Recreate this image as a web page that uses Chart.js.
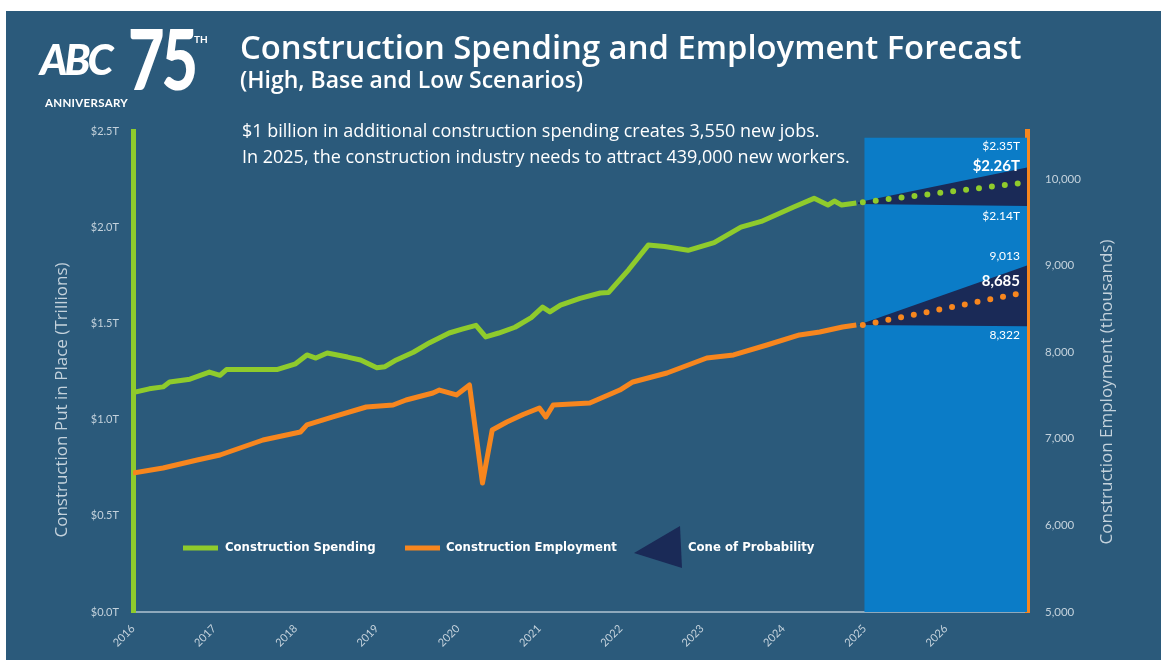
<!DOCTYPE html>
<html>
<head>
<meta charset="utf-8">
<script src="https://cdn.jsdelivr.net/npm/chart.js@4.4.0/dist/chart.umd.min.js"></script>
<style>
  body { margin: 0; background: #fff; }
  #wrap { position: relative; width: 1161px; height: 660px; overflow: hidden; }
  #bg { position: absolute; left: 6px; top: 11px; right: 0; bottom: 0; background: #2b5a7b; }
  canvas { position: absolute; left: 0; top: 0; }
  .t { position: absolute; color: #fff; white-space: nowrap; font-family: "Open Sans", sans-serif;
       line-height: 1; font-variant-ligatures: none; }
</style>
</head>
<body>
<div id="wrap">
  <div id="bg"></div>
  <canvas id="chart" width="1161" height="660"></canvas>
  <!-- logo -->
  <div class="t" style="left:40px;top:38px;font-family:Lato;font-size:42px;font-weight:900;font-style:italic;letter-spacing:-3px;">ABC</div>
  <div class="t" style="left:128px;top:16px;font-family:Lato;font-size:84px;font-weight:900;letter-spacing:-4px;transform:scaleX(0.75);transform-origin:left top;">75</div>
  <div class="t" style="left:194px;top:34px;font-family:Lato;font-size:10px;font-weight:700;">TH</div>
  <div class="t" style="left:45px;top:97px;font-family:Lato;font-size:11.5px;font-weight:700;letter-spacing:0.3px;">ANNIVERSARY</div>
  <!-- titles -->
  <div class="t" style="left:240px;top:31px;font-size:32.8px;font-weight:600;">Construction Spending and Employment Forecast</div>
  <div class="t" style="left:240px;top:68px;font-size:23px;font-weight:600;">(High, Base and Low Scenarios)</div>
  <div class="t" style="left:242px;top:121px;font-size:18px;">$1 billion in additional construction spending creates 3,550 new jobs.</div>
  <div class="t" style="left:242px;top:147px;font-size:18px;">In 2025, the construction industry needs to attract 439,000 new workers.</div>
</div>
<script>
// Construction spending, trillions (actual)
const spendX = [2016.0, 2016.2, 2016.37, 2016.45, 2016.7, 2016.94, 2017.07, 2017.15, 2017.4, 2017.77,
  2018.0, 2018.14, 2018.25, 2018.39, 2018.64, 2018.8, 2019.0, 2019.1, 2019.24, 2019.45, 2019.65, 2019.89,
  2020.05, 2020.22, 2020.34, 2020.5, 2020.7, 2020.9, 2021.04, 2021.13, 2021.26, 2021.5, 2021.75, 2021.85,
  2022.1, 2022.34, 2022.54, 2022.83, 2023.15, 2023.48, 2023.73, 2024.13, 2024.38, 2024.55, 2024.63, 2024.72, 2024.9];
const spendT = [1.14, 1.16, 1.17, 1.195, 1.21, 1.247, 1.23, 1.26, 1.26, 1.26,
  1.29, 1.336, 1.32, 1.346, 1.325, 1.31, 1.27, 1.275, 1.31, 1.35, 1.40, 1.45,
  1.47, 1.49, 1.43, 1.45, 1.48, 1.53, 1.585, 1.56, 1.595, 1.63, 1.658, 1.66,
  1.78, 1.907, 1.90, 1.88, 1.92, 2.00, 2.03, 2.105, 2.15, 2.115, 2.136, 2.115, 2.126];

// Construction employment, thousands (actual)
const empX = [2016.0, 2016.37, 2016.79, 2017.07, 2017.6, 2018.06, 2018.14, 2018.46, 2018.87, 2019.2,
  2019.36, 2019.69, 2019.77, 2019.98, 2020.14, 2020.3, 2020.42, 2020.6, 2020.8, 2021.0, 2021.08, 2021.17,
  2021.62, 2021.99, 2022.15, 2022.57, 2023.06, 2023.39, 2023.8, 2024.2, 2024.45, 2024.73, 2024.9];
const empK = [6605, 6663, 6755, 6813, 6986, 7078, 7160, 7252, 7367, 7390,
  7448, 7529, 7563, 7506, 7621, 6490, 7102, 7194, 7280, 7356, 7252, 7390,
  7413, 7563, 7656, 7760, 7933, 7968, 8083, 8199, 8233, 8291, 8314];

// Forecast (base dotted line) and cone of probability
const baseX = [2024.98, 2026.94];
const spendBase = [2.13, 2.23];
const empBase = [8314, 8685];
const coneX = [2024.92, 2027];
const spendHigh = [2.13, 2.31];
const spendLow = [2.12, 2.11];
const empHigh = [8314, 9000];
const empLow = [8314, 8300];
const spendLabels = ['$2.35T', '$2.26T', '$2.14T'];
const empLabels = ['9,013', '8,685', '8,322'];

const forecastStart = 2025;
const years = [2016, 2017, 2018, 2019, 2020, 2021, 2022, 2023, 2024, 2025, 2026];
const empTicks = [5000, 6000, 7000, 8000, 9000, 10000];

const GREEN = '#8fcb2c';
const ORANGE = '#f7861e';
const NAVY = '#1a2a57';
const FORECAST_BG = '#0b7cc7';
const TICK = '#c4d2dc';

const pts = (xs, ys) => xs.map((x, i) => ({ x: x, y: ys[i] }));

const overlay = {
  id: 'overlay',
  beforeDatasetsDraw(chart) {
    const { ctx, scales: { x, y } } = chart;
    const x0 = x.getPixelForValue(forecastStart);
    const x1 = x.getPixelForValue(2027);
    const top = y.getPixelForValue(2.465);
    ctx.save();
    ctx.fillStyle = FORECAST_BG;
    ctx.fillRect(x0, top, x1 - x0, y.getPixelForValue(0) - top);
    ctx.restore();
  },
  afterDraw(chart) {
    const { ctx, chartArea: ca, scales: { y, y1 } } = chart;
    ctx.save();
    // cone labels
    ctx.fillStyle = '#ffffff';
    ctx.textAlign = 'right';
    ctx.textBaseline = 'middle';
    const rx = ca.right - 7;
    const n = spendHigh.length - 1;
    ctx.font = '12px Lato';
    ctx.fillText(spendLabels[0], rx, y.getPixelForValue(spendHigh[n]) - 21);
    ctx.fillText(spendLabels[2], rx, y.getPixelForValue(spendLow[n]) + 10);
    ctx.fillText(empLabels[0], rx, y1.getPixelForValue(empHigh[n]) - 9);
    ctx.fillText(empLabels[2], rx, y1.getPixelForValue(empLow[n]) + 9);
    ctx.font = 'bold 15px Lato';
    ctx.fillText(spendLabels[1], rx, y.getPixelForValue(spendHigh[n]) - 1);
    ctx.fillText(empLabels[1], rx, y1.getPixelForValue(empBase[1]) - 12);

    // axis titles
    ctx.fillStyle = TICK;
    ctx.font = '17px "Open Sans"';
    ctx.textAlign = 'center';
    ctx.save();
    ctx.translate(62, 400);
    ctx.rotate(-Math.PI / 2);
    ctx.fillText('Construction Put in Place (Trillions)', 0, 0);
    ctx.restore();
    ctx.save();
    ctx.translate(1107, 392);
    ctx.rotate(-Math.PI / 2);
    ctx.fillText('Construction Employment (thousands)', 0, 0);
    ctx.restore();

    // legend
    const ly = 548;
    ctx.lineWidth = 5;
    ctx.strokeStyle = GREEN;
    ctx.beginPath(); ctx.moveTo(183, ly); ctx.lineTo(218, ly); ctx.stroke();
    ctx.strokeStyle = ORANGE;
    ctx.beginPath(); ctx.moveTo(405, ly); ctx.lineTo(440, ly); ctx.stroke();
    ctx.fillStyle = NAVY;
    ctx.beginPath(); ctx.moveTo(634, ly + 5); ctx.lineTo(680, ly - 22); ctx.lineTo(682, ly + 20); ctx.closePath(); ctx.fill();
    ctx.fillStyle = '#ffffff';
    ctx.textAlign = 'left';
    ctx.font = 'bold 13px "Liberation Sans Narrow", "DejaVu Sans Condensed", sans-serif';
    ctx.fillText('Construction Spending', 225, ly);
    ctx.fillText('Construction Employment', 446, ly);
    ctx.fillText('Cone of Probability', 688, ly);
    ctx.restore();
  }
};

Chart.defaults.font.family = 'Lato';

const ctx = document.getElementById('chart').getContext('2d');
const chart = new Chart(ctx, {
  type: 'line',
  data: {
    datasets: [
      { data: pts(spendX, spendT), yAxisID: 'y', borderColor: GREEN, borderWidth: 5, order: 1 },
      { data: pts(baseX, spendBase), yAxisID: 'y', borderColor: GREEN, borderWidth: 6,
        borderDash: [0, 13], borderCapStyle: 'round', order: 1 },
      { data: pts(empX, empK), yAxisID: 'y1', borderColor: ORANGE, borderWidth: 5, order: 1 },
      { data: pts(baseX, empBase), yAxisID: 'y1', borderColor: ORANGE, borderWidth: 6,
        borderDash: [0, 13], borderCapStyle: 'round', order: 1 },
      { data: pts(coneX, spendHigh), yAxisID: 'y', borderWidth: 0, backgroundColor: NAVY, fill: '+1', order: 5 },
      { data: pts(coneX, spendLow), yAxisID: 'y', borderWidth: 0, fill: false, order: 5 },
      { data: pts(coneX, empHigh), yAxisID: 'y1', borderWidth: 0, backgroundColor: NAVY, fill: '+1', order: 5 },
      { data: pts(coneX, empLow), yAxisID: 'y1', borderWidth: 0, fill: false, order: 5 }
    ]
  },
  options: {
    responsive: false,
    animation: false,
    layout: { padding: { top: 131, left: 0, right: 0, bottom: 0 } },
    elements: { point: { radius: 0 }, line: { tension: 0, borderJoinStyle: 'round' } },
    plugins: { legend: { display: false }, tooltip: { enabled: false } },
    scales: {
      x: {
        type: 'linear', min: 2016, max: 2027,
        grid: { display: false },
        border: { color: '#8fa9bc', width: 2 },
        afterBuildTicks: s => { s.ticks = years.map(v => ({ value: v })); },
        ticks: { autoSkip: false, minRotation: 45, maxRotation: 45, color: TICK,
          font: { size: 11 }, padding: 2, callback: v => String(v) },
        afterFit: s => { s.height = 48; }
      },
      y: {
        position: 'left', min: 0, max: 2.5,
        grid: { display: false },
        border: { color: GREEN, width: 5 },
        ticks: { stepSize: 0.5, autoSkip: false, color: TICK, font: { size: 11 }, padding: 6,
          callback: v => '$' + v.toFixed(1) + 'T' },
        afterFit: s => { s.width = 133; }
      },
      y1: {
        position: 'right', min: 5000, max: 10554,
        grid: { display: false },
        border: { color: ORANGE, width: 5 },
        afterBuildTicks: s => { s.ticks = empTicks.map(v => ({ value: v })); },
        ticks: { autoSkip: false, color: TICK, font: { size: 11.5 }, padding: 10,
          callback: v => v.toLocaleString('en-US') },
        afterFit: s => { s.width = 134; }
      }
    }
  },
  plugins: [overlay]
});
</script>
</body>
</html>
